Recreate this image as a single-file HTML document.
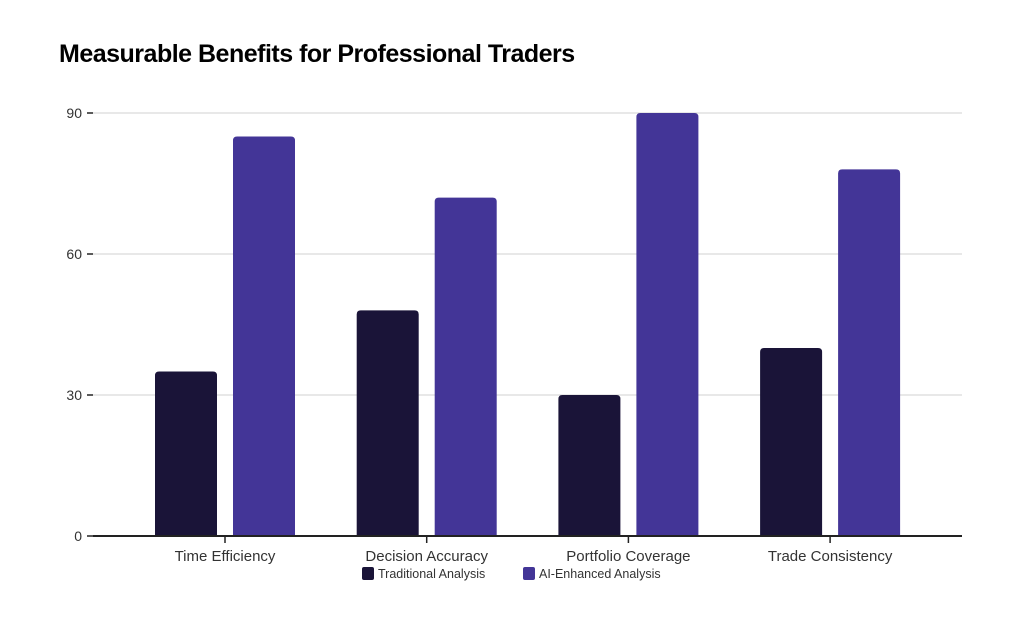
<!DOCTYPE html>
<html><head><meta charset="utf-8"><style>
body{margin:0;background:#fff;width:1024px;height:623px;overflow:hidden;font-family:"Liberation Sans",sans-serif}
h1{position:absolute;left:59px;top:40px;margin:0;font-size:25px;font-weight:bold;color:#000;letter-spacing:-0.5px}
</style></head><body>
<h1>Measurable Benefits for Professional Traders</h1>
<svg id="c" width="1024" height="623" style="position:absolute;left:0;top:0"></svg>
<script>
const categories=["Time Efficiency","Decision Accuracy","Portfolio Coverage","Trade Consistency"];
const traditional=[35,48,30,40];
const aiEnhanced=[85,72,90,78];
const yTicks=[0,30,60,90];
const seriesNames=["Traditional Analysis","AI-Enhanced Analysis"];
const colors=["#1a1438","#433597"];
const NS="http://www.w3.org/2000/svg";
const svg=document.getElementById('c');
const y=v=>536-v*(423/90);
const xc=i=>225+i*201.7;
function mk(t,a,p){const e=document.createElementNS(NS,t);for(const k in a)e.setAttribute(k,a[k]);(p||svg).appendChild(e);return e;}
yTicks.forEach(t=>{
  if(t>0){const g=mk('line',{x1:93,x2:962,y1:y(t),y2:y(t),stroke:'#d0d0d0','stroke-width':1});
  
  }
  const tk=mk('line',{x1:87,x2:93,y1:y(t),y2:y(t),stroke:'#222','stroke-width':1.5});
  
  
  const tx=mk('text',{x:82,y:y(t)+5,'text-anchor':'end','font-size':14,fill:'#333'});tx.textContent=t;
  
  
});
function bar(xl,v,c){const h=536-y(v),w=62,r=4,t=y(v);
  return mk('path',{d:`M${xl},536 V${t+r} Q${xl},${t} ${xl+r},${t} H${xl+w-r} Q${xl+w},${t} ${xl+w},${t+r} V536 Z`,fill:c});}
categories.forEach((c,i)=>{
  const b1=bar(xc(i)-70,traditional[i],colors[0]);
  
  
  const b2=bar(xc(i)+8,aiEnhanced[i],colors[1]);
  
  
  const tk=mk('line',{x1:xc(i),x2:xc(i),y1:536,y2:543,stroke:'#222','stroke-width':1.5});
  
  
  const tx=mk('text',{x:xc(i),y:561,'text-anchor':'middle','font-size':15,fill:'#333'});tx.textContent=c;
  
  
});
const ax=mk('line',{x1:93,x2:962,y1:536,y2:536,stroke:'#222','stroke-width':2});


const lx=[362,523];
seriesNames.forEach((s,i)=>{
  const r=mk('rect',{x:lx[i],y:567,width:12,height:13,rx:2,fill:colors[i]});
  
  
  const t=mk('text',{x:lx[i]+16,y:578,'font-size':12.5,fill:'#333'});t.textContent=s;
  
  
});
</script>
</body></html>
